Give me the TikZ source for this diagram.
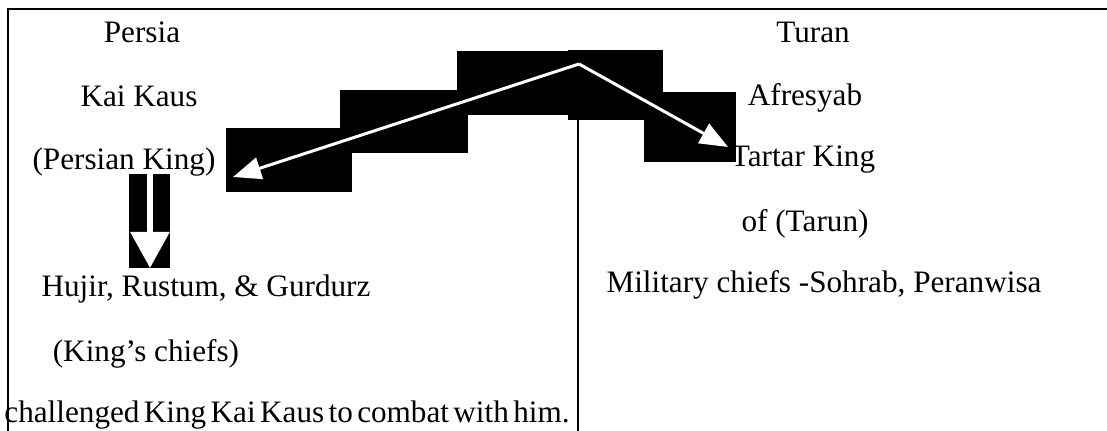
\documentclass[tikz,border=0pt]{standalone}
\usepackage{fontspec}
\setmainfont{Liberation Serif}
\usetikzlibrary{arrows.meta}
\newcommand\tightspace{\spaceskip=0.14em plus 0.05em\relax}
\begin{document}
\begin{tikzpicture}[x=0.5pt,y=-0.5pt,
    every node/.style={anchor=base,inner sep=0pt,font=\fontsize{15.6}{18}\selectfont},
    frame/.style={line width=1pt},
    divider/.style={line width=0.8pt},
    whitearrow/.style={white,line width=1.5pt,-{Triangle[length=14pt,width=11pt]}},
    downarrow/.style={white,line width=3pt,-{Triangle[length=18pt,width=19pt]}}]
  \useasboundingbox (0,0) rectangle (1107,431);
  \draw[frame] (1107,9.5) -- (8,9.5) -- (8,431);
  \draw[divider] (578,120) -- (578,431);
  \fill (226,128) rectangle (352,192);
  \fill (340,90) rectangle (468,153);
  \fill (457,51) rectangle (568,115);
  \fill (568,50) rectangle (663,120);
  \fill (644,92) rectangle (736,162);
  \fill (129,174) rectangle (170,268);
  \draw
    (142,43) node (persia){Persia}
    (139,107) node (kaikaus){Kai Kaus}
    (124,170) node (pking){(Persian King)}
    (206,297) node (hujir){Hujir, Rustum, \& Gurdurz}
    (146,362) node (kchiefs){(King’s chiefs)}
    (287,423) node (challenge){\tightspace challenged King Kai Kaus to combat with him.}
    (813,43) node (turan){Turan}
    (805,106) node (afresyab){Afresyab}
    (803,167) node (tartar){Tartar King}
    (805,232) node (tarun){of (Tarun)}
    (824,293) node (military){Military chiefs -Sohrab, Peranwisa};
  \coordinate (apex) at (579,64);
  \coordinate (tipL) at (233,177);
  \coordinate (tipR) at (728,147);
  \coordinate (downtop) at (150,174);
  \coordinate (downtip) at (150,268);
  \begin{scope}[whitearrow]
    \draw (apex) to (tipL);
    \draw (apex) to (tipR);
  \end{scope}
  \draw[downarrow] (downtop) to (downtip);
\end{tikzpicture}
\end{document}
